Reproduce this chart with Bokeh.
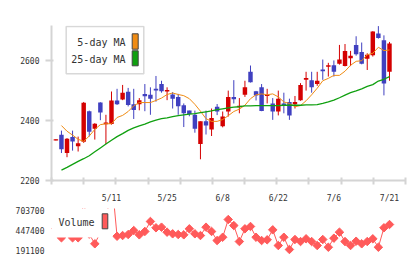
import math
from bokeh.plotting import figure
from bokeh.models import (Range1d, FixedTicker, ColumnDataSource, BoxAnnotation, Label,
                          NumeralTickFormatter)
from bokeh.layouts import column
from bokeh.embed import file_html
from bokeh.resources import INLINE

dates = ["4/21", "4/22", "4/23", "4/24", "4/27", "4/28", "4/30", "5/1", "5/7", "5/8",
         "5/11", "5/12", "5/13", "5/14", "5/15", "5/18", "5/19", "5/20", "5/21", "5/22",
         "5/25", "5/26", "5/27", "5/28", "5/29", "6/1", "6/2", "6/3", "6/4", "6/5",
         "6/8", "6/9", "6/10", "6/11", "6/12", "6/15", "6/16", "6/17", "6/18", "6/19",
         "6/22", "6/23", "6/24", "6/25", "6/26", "6/29", "6/30", "7/1", "7/2", "7/3",
         "7/6", "7/7", "7/8", "7/9", "7/10", "7/13", "7/14", "7/15", "7/16", "7/17",
         "7/21"]
tick_labels = ["5/11", "5/25", "6/8", "6/22", "7/6", "7/21"]

opens = [2333, 2352, 2291, 2345, 2314, 2329, 2431, 2372, 2460, 2387,
         2388, 2467, 2470, 2496, 2454, 2454, 2489, 2486, 2506, 2522,
         2497, 2487, 2479, 2451, 2433, 2419, 2321, 2397, 2370, 2446,
         2381, 2430, 2479, 2444, 2486, 2563, 2498, 2511, 2482, 2457,
         2430, 2457, 2462, 2454, 2468, 2536, 2535, 2522, 2571, 2580,
         2585, 2590, 2582, 2608, 2653, 2629, 2607, 2618, 2691, 2669,
         2563]
highs = [2337, 2366, 2341, 2366, 2346, 2462, 2433, 2391, 2461, 2419,
         2497, 2506, 2519, 2509, 2506, 2475, 2522, 2511, 2549, 2533,
         2511, 2495, 2489, 2457, 2433, 2433, 2397, 2433, 2440, 2455,
         2430, 2500, 2535, 2475, 2533, 2584, 2499, 2522, 2506, 2475,
         2500, 2493, 2473, 2482, 2525, 2563, 2563, 2563, 2604, 2593,
         2601, 2653, 2656, 2633, 2682, 2661, 2625, 2699, 2716, 2685,
         2663]
lows = [2333, 2291, 2277, 2299, 2296, 2325, 2346, 2336, 2401, 2321,
        2386, 2452, 2468, 2447, 2405, 2434, 2431, 2419, 2463, 2493,
        2468, 2440, 2419, 2378, 2414, 2359, 2270, 2353, 2348, 2418,
        2377, 2413, 2457, 2424, 2479, 2527, 2467, 2431, 2457, 2402,
        2417, 2424, 2402, 2440, 2466, 2500, 2493, 2516, 2536, 2547,
        2547, 2587, 2581, 2582, 2617, 2588, 2569, 2614, 2674, 2484,
        2533]
closes = [2337, 2304, 2339, 2330, 2324, 2459, 2362, 2389, 2427, 2393,
          2467, 2454, 2493, 2452, 2435, 2468, 2481, 2473, 2500, 2498,
          2502, 2473, 2448, 2424, 2422, 2372, 2397, 2383, 2408, 2430,
          2413, 2479, 2471, 2449, 2511, 2528, 2484, 2432, 2486, 2430,
          2473, 2451, 2417, 2462, 2519, 2542, 2511, 2533, 2565, 2585,
          2563, 2604, 2633, 2617, 2622, 2590, 2620, 2698, 2676, 2524,
          2658]

nan = float("nan")
ma5 = [nan, 2383, 2364, 2351, 2337, 2330, 2348, 2370, 2386, 2389,
       2389, 2410, 2417, 2430, 2449, 2460, 2460, 2460, 2467, 2475,
       2487, 2492, 2487, 2483, 2473, 2454, 2431, 2406, 2397, 2397,
       2403, 2416, 2430, 2438, 2451, 2473, 2486, 2489, 2486, 2489,
       2479, 2462, 2457, 2446, 2450, 2466, 2486, 2508, 2533, 2541,
       2551, 2551, 2565, 2585, 2598, 2600, 2620, 2625, 2645, 2634,
       2636]
ma25 = [nan, 2234, 2243, 2253, 2263, 2272, 2282, 2295, 2308, 2321,
        2334, 2346, 2356, 2367, 2375, 2382, 2388, 2395, 2401, 2406,
        2409, 2413, 2416, 2419, 2421, 2423, 2426, 2429, 2432, 2436,
        2439, 2442, 2445, 2446, 2449, 2449, 2450, 2450, 2450, 2450,
        2450, 2451, 2451, 2451, 2451, 2452, 2452, 2453, 2457, 2462,
        2468, 2476, 2485, 2493, 2499, 2506, 2514, 2520, 2532, 2538,
        2547]
volumes = [470000, 354000, 480000, 354000, 354000, 820000, 401000, 277000, 422000, 500000,
           1139000, 374000, 383000, 396000, 447000, 392000, 435000, 563000, 482000, 490000,
           426000, 405000, 396000, 392000, 469000, 405000, 383000, 490000, 435000, 319000,
           361000, 588000, 511000, 306000, 469000, 499000, 361000, 319000, 328000, 456000,
           255000, 361000, 204000, 332000, 306000, 341000, 306000, 255000, 332000, 233000,
           349000, 426000, 306000, 255000, 310000, 277000, 306000, 341000, 233000, 482000,
           524000]
price_ticks = [2200, 2400, 2600]
volume_ticks = [191100, 447400, 703700]

UP = "#d40000"
DOWN = "#4040c0"
ORANGE = "#f08c14"
GREEN = "#10a010"
VOLC = "#ff5a5a"
AXIS = "#d4d4d4"
TEXT = "#333333"
MONO = "DejaVu Sans Mono"

n = len(dates)
idx = list(range(n))
src = ColumnDataSource(dict(
    x=idx, h=highs, l=lows,
    top=[max(o, c) for o, c in zip(opens, closes)],
    bottom=[min(o, c) for o, c in zip(opens, closes)],
    color=[UP if c >= o else DOWN for o, c in zip(opens, closes)],
))

x_lo, x_hi = -0.79, 62.88
grid_ticks = [x_lo + 0.01 + k * (x_hi - x_lo - 0.02) / 11 for k in range(12)]
label_pos = [dates.index(t) for t in tick_labels]

p1 = figure(width=420, height=205, x_range=Range1d(x_lo, x_hi), y_range=Range1d(2199, 2718),
            output_backend="svg", toolbar_location=None, title=None,
            min_border_left=51, min_border_right=15, min_border_top=25, min_border_bottom=21)
p1.outline_line_color = None
p1.grid.visible = False
p1.background_fill_color = "white"
p1.border_fill_color = "white"

p1.segment(x0="x", y0="h", x1="x", y1="l", color="color", line_width=1, source=src)
p1.vbar(x="x", top="top", bottom="bottom", width=0.8, fill_color="color", line_color=None, source=src)
p1.line(idx, ma5, color=ORANGE, line_width=1)
p1.line(idx, ma25, color=GREEN, line_width=1.3)

xa = p1.xaxis[0]
xa.ticker = FixedTicker(ticks=label_pos, minor_ticks=grid_ticks)
xa.major_label_overrides = {pos: lab for pos, lab in zip(label_pos, tick_labels)}
xa.major_tick_line_color = None
xa.major_tick_out = 0
xa.major_tick_in = 0
xa.minor_tick_line_color = AXIS
xa.minor_tick_line_width = 2
xa.minor_tick_in = 3
xa.minor_tick_out = 4
xa.axis_line_color = AXIS
xa.axis_line_width = 2
xa.major_label_standoff = 9
xa.major_label_text_font = MONO
xa.major_label_text_font_size = "8px"
xa.major_label_text_color = TEXT

ya = p1.yaxis[0]
ya.ticker = FixedTicker(ticks=price_ticks)
ya.major_tick_in = 2
ya.major_tick_out = 6
ya.major_tick_line_color = AXIS
ya.major_tick_line_width = 2
ya.axis_line_color = AXIS
ya.axis_line_width = 2
ya.major_label_standoff = 6
ya.major_label_text_font = MONO
ya.major_label_text_font_size = "8px"
ya.major_label_text_color = TEXT

# header texts
p1.add_layout(Label(x=8 - 51, y=184 - 13, x_units="screen", y_units="screen",
                    text="8336 07/21 17:01 updated.", text_baseline="middle",
                    text_font=MONO, text_font_size="10px", text_color=TEXT))
p1.add_layout(Label(x=409 - 51, y=184 - 13, x_units="screen", y_units="screen",
                    text="(C)https://www.rizumu.net/", text_baseline="middle", text_align="right",
                    text_font=MONO, text_font_size="10px", text_color=TEXT))

# price legend
p1.add_layout(BoxAnnotation(left=14.7, right=92.3, top=154, bottom=106.7,
                            left_units="screen", right_units="screen", top_units="screen", bottom_units="screen",
                            fill_color="white", fill_alpha=1, line_color="#d8d8d8", line_alpha=1, line_width=1.5))
p1.add_layout(Label(x=74, y=138, x_units="screen", y_units="screen", text="5-day MA",
                    text_align="right", text_baseline="middle",
                    text_font=MONO, text_font_size="10px", text_color=TEXT))
p1.add_layout(Label(x=74, y=120.7, x_units="screen", y_units="screen", text="25-day MA",
                    text_align="right", text_baseline="middle",
                    text_font=MONO, text_font_size="10px", text_color=TEXT))
p1.add_layout(BoxAnnotation(left=80.7, right=86.7, top=146.7, bottom=131.3,
                            left_units="screen", right_units="screen", top_units="screen", bottom_units="screen",
                            fill_color=ORANGE, fill_alpha=1, line_color="#444444", line_alpha=1, line_width=1))
p1.add_layout(BoxAnnotation(left=80.7, right=86.7, top=129.7, bottom=114.7,
                            left_units="screen", right_units="screen", top_units="screen", bottom_units="screen",
                            fill_color=GREEN, fill_alpha=1, line_color="#444444", line_alpha=1, line_width=1))

# volume panel
p2 = figure(width=420, height=54, x_range=p1.x_range, y_range=Range1d(101400, 729300),
            output_backend="svg", toolbar_location=None, title=None, x_axis_location=None,
            min_border_left=51, min_border_right=15, min_border_top=3, min_border_bottom=2)
p2.outline_line_color = None
p2.grid.visible = False
p2.line(idx, volumes, color=VOLC, line_width=1)
p2.scatter(idx, volumes, marker="square", angle=math.pi / 4, size=6, color=VOLC)

va = p2.yaxis[0]
va.ticker = FixedTicker(ticks=volume_ticks)
va.formatter = NumeralTickFormatter(format="0")
va.axis_line_color = None
va.major_tick_line_color = None
va.minor_tick_line_color = None
va.major_tick_out = 0
va.major_tick_in = 0
va.major_label_standoff = 7
va.major_label_text_font = MONO
va.major_label_text_font_size = "8px"
va.major_label_text_color = TEXT

p2.add_layout(BoxAnnotation(left=0, right=61, top=49, bottom=20,
                            left_units="screen", right_units="screen", top_units="screen", bottom_units="screen",
                            fill_color="white", fill_alpha=1, line_color=None))
p2.add_layout(Label(x=43, y=35.3, x_units="screen", y_units="screen", text="Volume",
                    text_align="right", text_baseline="middle",
                    text_font=MONO, text_font_size="10px", text_color=TEXT))
p2.add_layout(BoxAnnotation(left=50.7, right=56.3, top=43.7, bottom=28.7,
                            left_units="screen", right_units="screen", top_units="screen", bottom_units="screen",
                            fill_color=VOLC, fill_alpha=1, line_color="#444444", line_alpha=1, line_width=1))

layout = column(p1, p2, spacing=0)
open("out.html", "w").write(file_html(layout, INLINE))
